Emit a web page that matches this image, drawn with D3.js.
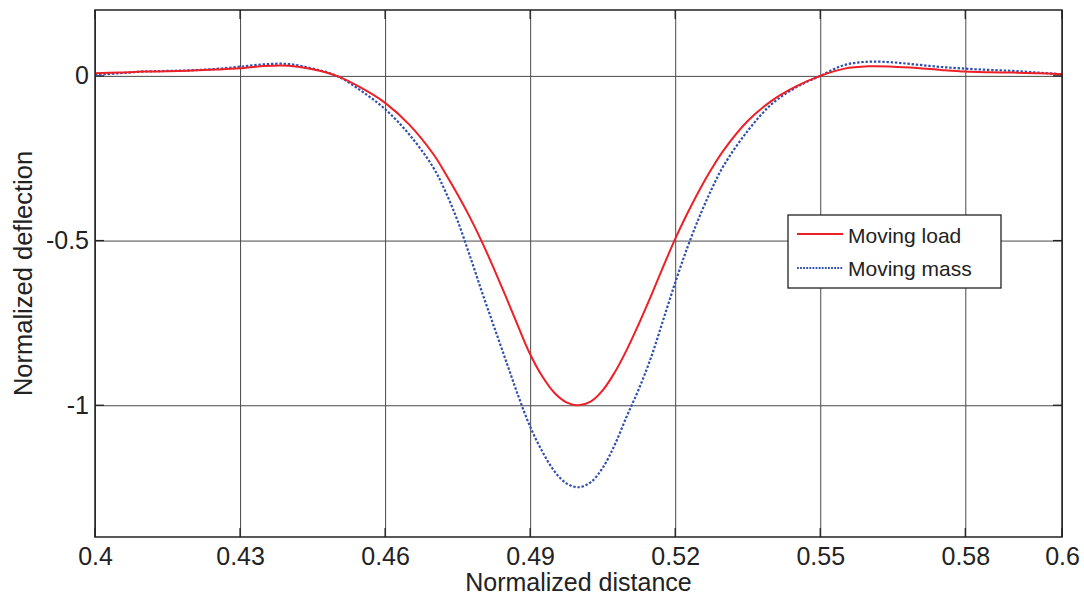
<!DOCTYPE html>
<html><head><meta charset="utf-8">
<script src="https://cdn.jsdelivr.net/npm/d3@7"></script>
<style>
html,body{margin:0;padding:0;background:#fff;}
svg{display:block;font-family:"Liberation Sans",Arial,sans-serif;}
</style></head>
<body><svg id="c" width="1084" height="598"></svg>
<script>
const xValues = [0.400,0.405,0.410,0.415,0.420,0.425,0.430,0.435,0.440,0.445,0.450,0.455,0.460,0.465,
  0.4700,0.4725,0.4750,0.4775,0.4800,0.4825,0.4850,0.4875,0.4900,0.4925,0.4950,0.4975,0.5000,
  0.5025,0.5050,0.5075,0.5100,0.5125,0.5150,0.5175,0.5200,0.5225,0.5250,0.5275,0.5300,
  0.535,0.540,0.545,0.550,0.555,0.560,0.565,0.570,0.575,0.580,0.585,0.590,0.595,0.600];
const movingLoad = [0.008,0.010,0.013,0.014,0.016,0.019,0.023,0.030,0.031,0.020,0.000,-0.036,-0.082,-0.148,
  -0.238,-0.297,-0.360,-0.428,-0.503,-0.585,-0.671,-0.760,-0.845,-0.912,-0.962,-0.991,-1.000,
  -0.989,-0.955,-0.900,-0.831,-0.752,-0.668,-0.580,-0.495,-0.418,-0.347,-0.283,-0.226,
  -0.137,-0.075,-0.032,0.000,0.022,0.029,0.028,0.024,0.018,0.013,0.011,0.010,0.008,0.005];
const movingMass = [0.003,0.008,0.013,0.015,0.017,0.021,0.028,0.035,0.036,0.022,0.000,-0.045,-0.101,-0.178,
  -0.279,-0.352,-0.440,-0.545,-0.655,-0.760,-0.865,-0.970,-1.065,-1.140,-1.200,-1.237,-1.249,
  -1.234,-1.190,-1.120,-1.033,-0.950,-0.855,-0.742,-0.628,-0.522,-0.428,-0.345,-0.273,
  -0.167,-0.085,-0.035,0.000,0.033,0.043,0.041,0.034,0.027,0.022,0.018,0.015,0.010,0.005];
const xTicks = [0.4,0.43,0.46,0.49,0.52,0.55,0.58,0.6];
const yTicks = [0,-0.5,-1];
const seriesNames = ["Moving load","Moving mass"];

const svg = d3.select("#c");
const L=95, R=1062, T=10, B=537;
const x = d3.scaleLinear().domain([0.4,0.6]).range([L,R]);
const y = d3.scaleLinear().domain([-1.4,0.2]).range([B,T]);
const gridColor = "#4a4a4a";

svg.append("defs").append("clipPath").attr("id","clip")
  .append("rect").attr("x",L).attr("y",T).attr("width",R-L).attr("height",B-T);

// grid
const gx = svg.append("g").attr("transform",`translate(0,${B})`)
  .call(d3.axisBottom(x).tickValues(xTicks).tickSize(-(B-T)).tickFormat(""));
gx.select(".domain").remove();
gx.selectAll("line").attr("stroke",gridColor).attr("stroke-width",1);
const gy = svg.append("g").attr("transform",`translate(${L},0)`)
  .call(d3.axisLeft(y).tickValues(yTicks).tickSize(-(R-L)).tickFormat(""));
gy.select(".domain").remove();
gy.selectAll("line").attr("stroke",gridColor).attr("stroke-width",1);

// inner tick marks
const tk = 9;
const tickG = svg.append("g").attr("stroke","#222").attr("stroke-width",1.3);
xTicks.forEach(v=>{
  tickG.append("line").attr("x1",x(v)).attr("x2",x(v)).attr("y1",B).attr("y2",B-tk);
  tickG.append("line").attr("x1",x(v)).attr("x2",x(v)).attr("y1",T).attr("y2",T+tk);
});
yTicks.forEach(v=>{
  tickG.append("line").attr("x1",L).attr("x2",L+tk).attr("y1",y(v)).attr("y2",y(v));
  tickG.append("line").attr("x1",R).attr("x2",R-tk).attr("y1",y(v)).attr("y2",y(v));
});

// tick labels
const ax = svg.append("g").attr("transform",`translate(0,${B})`)
  .call(d3.axisBottom(x).tickValues(xTicks).tickSize(0).tickPadding(10).tickFormat(d=>String(d)));
ax.select(".domain").remove();
ax.selectAll("text").attr("font-size",25).attr("fill","#222").attr("font-family","Liberation Sans, Arial, sans-serif");
const ay = svg.append("g").attr("transform",`translate(${L},0)`)
  .call(d3.axisLeft(y).tickValues(yTicks).tickSize(0).tickPadding(6).tickFormat(d=>String(d)));
ay.select(".domain").remove();
ay.selectAll("text").attr("font-size",25).attr("fill","#222").attr("font-family","Liberation Sans, Arial, sans-serif");

// lines
const line = (vals)=>d3.line().x((d,i)=>x(xValues[i])).y(d=>y(d)).curve(d3.curveCatmullRom.alpha(0.5))(vals);
const plot = svg.append("g").attr("clip-path","url(#clip)");
plot.append("path").attr("d",line(movingMass)).attr("fill","none")
  .attr("stroke","#2f4fb0").attr("stroke-width",2.2).attr("stroke-dasharray","2.4,1.8");
plot.append("path").attr("d",line(movingLoad)).attr("fill","none")
  .attr("stroke","#ee1f26").attr("stroke-width",2);

// frame
svg.append("rect").attr("x",L).attr("y",T).attr("width",R-L).attr("height",B-T)
  .attr("fill","none").attr("stroke","#222").attr("stroke-width",1.5);

// axis titles
svg.append("text").attr("x",(L+R)/2).attr("y",591).attr("text-anchor","middle")
  .attr("font-size",25).attr("fill","#222").text("Normalized distance");
svg.append("text").attr("transform",`translate(32,${(T+B)/2}) rotate(-90)`).attr("text-anchor","middle")
  .attr("font-size",25.5).attr("fill","#222").text("Normalized deflection");

// legend
const lg = svg.append("g");
lg.append("rect").attr("x",788).attr("y",215).attr("width",213).attr("height",73)
  .attr("fill","#fff").attr("stroke","#222").attr("stroke-width",1.3);
lg.append("line").attr("x1",797).attr("x2",843).attr("y1",234).attr("y2",234)
  .attr("stroke","#ee1f26").attr("stroke-width",2);
lg.append("line").attr("x1",797).attr("x2",843).attr("y1",268).attr("y2",268)
  .attr("stroke","#2f4fb0").attr("stroke-width",1.8).attr("stroke-dasharray","1.8,1.3");
lg.append("text").attr("x",848).attr("y",243).attr("font-size",21).attr("fill","#222").text(seriesNames[0]);
lg.append("text").attr("x",848).attr("y",276).attr("font-size",21).attr("fill","#222").text(seriesNames[1]);
</script></body></html>
